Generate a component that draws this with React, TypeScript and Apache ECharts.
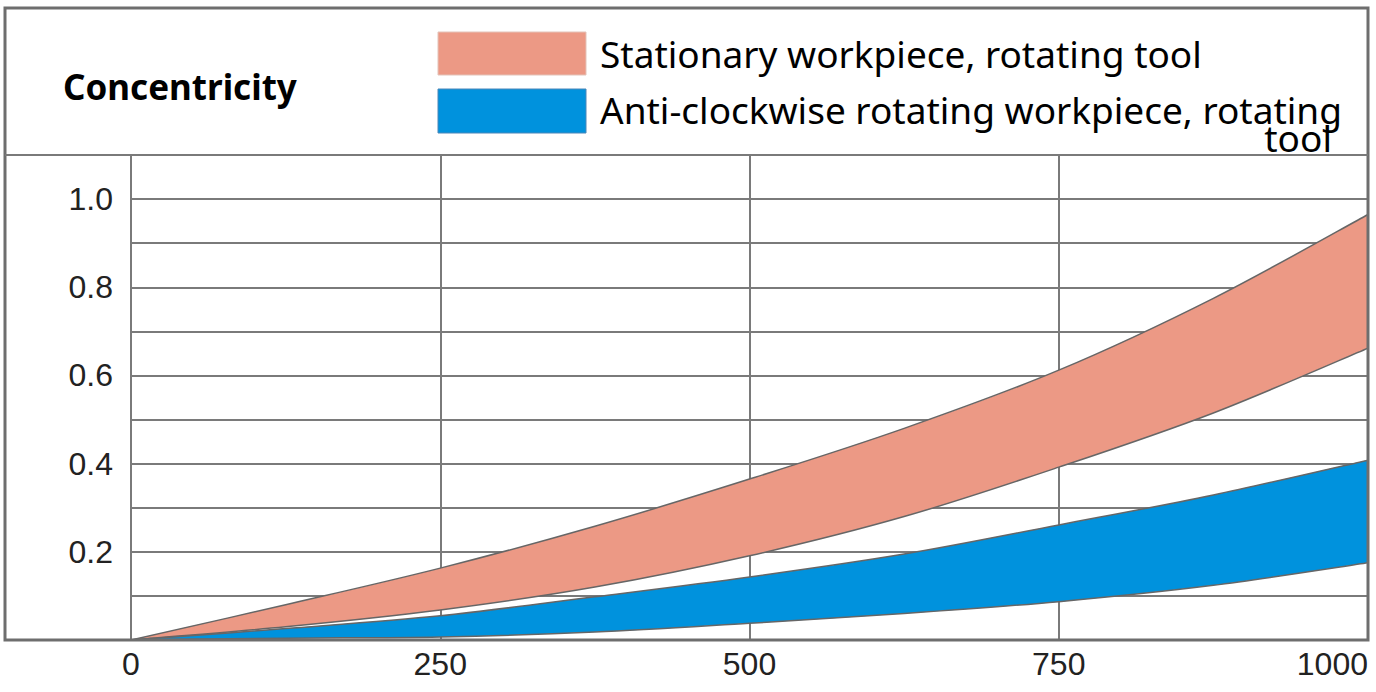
import React, { useEffect, useRef } from "react";
import * as echarts from "echarts";

const xValues = [0, 125, 250, 375, 500, 625, 750, 875, 1000];
const stationaryUpper = [0, 0.08, 0.163, 0.258, 0.365, 0.48, 0.612, 0.775, 0.965];
const stationaryLower = [0, 0.03, 0.068, 0.12, 0.191, 0.28, 0.392, 0.515, 0.662];
const rotatingUpper = [0, 0.026, 0.055, 0.098, 0.143, 0.195, 0.261, 0.329, 0.408];
const rotatingLower = [0, 0.004, 0.007, 0.018, 0.038, 0.06, 0.087, 0.124, 0.175];
const yTickLabels = ["0.2", "0.4", "0.6", "0.8", "1.0"];
const xTickLabels = ["0", "250", "500", "750", "1000"];
const title = "Concentricity";
const legendNames = ["Stationary workpiece, rotating tool", "Anti-clockwise rotating workpiece, rotating"];
const legendWrap = "tool";

const PINK = "#EC9985";
const BLUE = "#0092DD";
const GRID = "#7a7a7a";
const EDGE = "#666666";

type Pt = number[];

// Catmull-Rom style smoothing of the already-projected pixel points into SVG path commands
function smoothPath(pts: Pt[], move: boolean): string {
  let d = move ? `M${pts[0][0]},${pts[0][1]}` : `L${pts[0][0]},${pts[0][1]}`;
  for (let i = 0; i < pts.length - 1; i++) {
    const p0 = pts[i - 1] || pts[i];
    const p1 = pts[i];
    const p2 = pts[i + 1];
    const p3 = pts[i + 2] || p2;
    const c1x = p1[0] + (p2[0] - p0[0]) / 6;
    const c1y = p1[1] + (p2[1] - p0[1]) / 6;
    const c2x = p2[0] - (p3[0] - p1[0]) / 6;
    const c2y = p2[1] - (p3[1] - p1[1]) / 6;
    d += ` C${c1x},${c1y} ${c2x},${c2y} ${p2[0]},${p2[1]}`;
  }
  return d;
}

function bandSeries(name: string, upper: number[], lower: number[], color: string) {
  return {
    type: "custom",
    name,
    clip: true,
    z: 3,
    data: [[0]],
    renderItem: (_params: any, api: any) => {
      const up = xValues.map((x, i) => api.coord([x, upper[i]]));
      const lo = xValues.map((x, i) => api.coord([x, lower[i]]));
      const loRev = lo.slice().reverse();
      const fillD = smoothPath(up, true) + " " + smoothPath(loRev, false) + " Z";
      return {
        type: "group",
        children: [
          {
            type: "path",
            shape: { pathData: fillD },
            style: { fill: color, stroke: "none" },
          },
          {
            type: "path",
            shape: { pathData: smoothPath(up, true) },
            style: { fill: "none", stroke: EDGE, lineWidth: 1.5 },
          },
          {
            type: "path",
            shape: { pathData: smoothPath(lo, true) },
            style: { fill: "none", stroke: EDGE, lineWidth: 1.5 },
          },
        ],
      };
    },
  };
}

export default function App() {
  const ref = useRef<HTMLDivElement>(null);
  useEffect(() => {
    const chart = echarts.init(ref.current!, null, { renderer: "svg" });
    chart.setOption({
      animation: false,
      backgroundColor: "#ffffff",
      grid: { left: 131, right: 8, top: 155, bottom: 52, containLabel: false },
      xAxis: {
        type: "value",
        min: 0,
        max: 1000,
        interval: 250,
        axisLine: { show: false },
        axisTick: { show: false },
        splitLine: { show: true, lineStyle: { color: GRID, width: 2 } },
        axisLabel: {
          margin: 8,
          fontFamily: "Liberation Sans",
          fontSize: 32,
          color: "#222",
          alignMaxLabel: "right",
          formatter: (v: number) => {
            const s = String(v);
            return xTickLabels.includes(s) ? s : "";
          },
        },
      },
      yAxis: {
        type: "value",
        min: 0,
        max: 1.1,
        interval: 0.1,
        axisLine: { show: true, lineStyle: { color: GRID, width: 2 } },
        axisTick: { show: false },
        splitLine: { show: true, lineStyle: { color: GRID, width: 2 } },
        axisLabel: {
          margin: 18,
          fontFamily: "Liberation Sans",
          fontSize: 32,
          color: "#222",
          formatter: (v: number) => {
            const s = v.toFixed(1);
            return yTickLabels.includes(s) ? s : "";
          },
        },
      },
      series: [
        bandSeries(legendNames[0], stationaryUpper, stationaryLower, PINK),
        bandSeries(legendNames[1], rotatingUpper, rotatingLower, BLUE),
      ],
      graphic: [
        {
          type: "rect",
          shape: { x: 5, y: 8, width: 1363, height: 632 },
          style: { fill: "none", stroke: "#6e6e6e", lineWidth: 3 },
          z: 10,
          silent: true,
        },
        {
          type: "line",
          shape: { x1: 5, y1: 155, x2: 1368, y2: 155 },
          style: { stroke: GRID, lineWidth: 2 },
          z: 10,
          silent: true,
        },
        {
          type: "text",
          x: 63,
          y: 86,
          style: {
            text: title,
            fontFamily: "Noto Sans",
            fontWeight: "bold",
            fontSize: 35,
            fill: "#000",
            verticalAlign: "middle",
          },
        },
        {
          type: "rect",
          shape: { x: 438, y: 32, width: 148, height: 43 },
          style: { fill: PINK, stroke: "#e3c3b9", lineWidth: 1 },
        },
        {
          type: "rect",
          shape: { x: 438, y: 89, width: 148, height: 44 },
          style: { fill: BLUE, stroke: "#4a86b8", lineWidth: 1 },
        },
        {
          type: "text",
          x: 600,
          y: 53,
          style: {
            text: legendNames[0],
            fontFamily: "Noto Sans",
            fontSize: 37,
            fill: "#000",
            verticalAlign: "middle",
          },
        },
        {
          type: "text",
          x: 600,
          y: 95,
          style: {
            text: `{a|${legendNames[1]}}\n{b|${legendWrap}}`,
            fontFamily: "Noto Sans",
            fontSize: 37,
            fill: "#000",
            verticalAlign: "top",
            rich: {
              a: { fontFamily: "Noto Sans", fontSize: 37, lineHeight: 28, fill: "#000" },
              b: {
                fontFamily: "Noto Sans",
                fontSize: 37,
                lineHeight: 28,
                fill: "#000",
                align: "right",
                padding: [0, 10, 0, 0],
              },
            },
          },
        },
      ],
    });
    return () => chart.dispose();
  }, []);
  return (
    <div
      ref={ref}
      style={{ position: "fixed", left: 0, top: 0, width: 1376, height: 692, background: "#fff" }}
    />
  );
}
